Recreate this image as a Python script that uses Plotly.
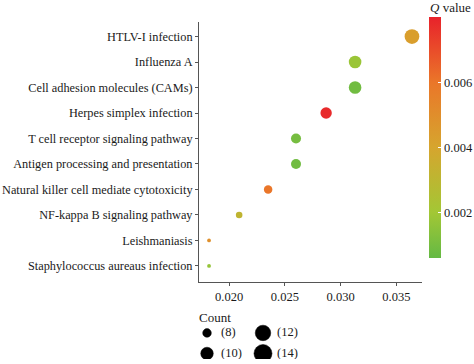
import plotly.graph_objects as go
import numpy as np

# ---------------- data ----------------
pathways = [
    "HTLV-I infection",
    "Influenza A",
    "Cell adhesion molecules (CAMs)",
    "Herpes simplex infection",
    "T cell receptor signaling pathway",
    "Antigen processing and presentation",
    "Natural killer cell mediate cytotoxicity",
    "NF-kappa B signaling pathway",
    "Leishmaniasis",
    "Staphylococcus aureaus infection",
]
rich_factor = [0.0364, 0.0313, 0.0313, 0.0287, 0.0260, 0.0260, 0.0235, 0.0209, 0.0182, 0.0182]
q_value = [0.0043, 0.0018, 0.0009, 0.0078, 0.0010, 0.0009, 0.0060, 0.0031, 0.0049, 0.0017]
counts = [14, 12, 12, 11, 10, 10, 9, 8, 7, 7]

x_ticks = [0.020, 0.025, 0.030, 0.035]
x_tick_labels = ["0.020", "0.025", "0.030", "0.035"]
q_ticks = [0.002, 0.004, 0.006]
q_tick_labels = ["0.002", "0.004", "0.006"]

legend_counts = [8, 10, 12, 14]
legend_labels = ["(8)", "(10)", "(12)", "(14)"]
legend_col = [0, 0, 1, 1]
legend_row = [1, 0, 1, 0]

# ---------------- style ----------------
FONT = "Liberation Serif"
TXT = "#1a1a1a"
AXC = "#555555"
colorscale = [
    [0.00, "#64b944"],
    [0.19, "#a3c735"],
    [0.46, "#d6a52e"],
    [0.73, "#ea7629"],
    [1.00, "#e8222b"],
]
Q_MIN, Q_MAX = 0.0006, 0.0080


def plot_size(c):
    return 14.7 * np.sqrt((np.asarray(c) - 6.5) / 7.5)


def legend_size(c):
    return 18.0 * np.sqrt((np.asarray(c) - 6.2) / 7.8)


fig = go.Figure()

fig.add_trace(go.Scatter(
    x=rich_factor,
    y=pathways,
    mode="markers",
    marker=dict(
        size=plot_size(counts),
        color=q_value,
        colorscale=colorscale,
        cmin=Q_MIN, cmax=Q_MAX,
        line=dict(width=0),
        opacity=1,
        showscale=True,
        colorbar=dict(
            x=1.031, xanchor="left",
            y=1.0148, yanchor="top",
            len=241, lenmode="pixels",
            thickness=12,
            outlinewidth=0,
            tickvals=q_ticks,
            ticktext=q_tick_labels,
            ticks="inside", ticklen=3, tickcolor="white", tickwidth=1,
            tickfont=dict(family=FONT, size=12.5, color=TXT),
            ypad=0, xpad=0,
        ),
    ),
    showlegend=False,
    hoverinfo="skip",
))

# size legend
fig.add_trace(go.Scatter(
    x=legend_col,
    y=legend_row,
    mode="markers",
    marker=dict(size=legend_size(legend_counts), color="#000000", opacity=1,
                line=dict(width=0.5, color="#000000")),
    xaxis="x2", yaxis="y2",
    showlegend=False, hoverinfo="skip",
))
fig.add_trace(go.Scatter(
    x=[c + 0.25 for c in legend_col],
    y=legend_row,
    mode="text",
    text=legend_labels,
    textposition="middle right",
    textfont=dict(family=FONT, size=12.5, color=TXT),
    xaxis="x2", yaxis="y2",
    showlegend=False, hoverinfo="skip",
))

fig.update_layout(
    width=474, height=364,
    margin=dict(l=199, r=52, t=22, b=5, autoexpand=False),
    paper_bgcolor="white",
    plot_bgcolor="white",
    font=dict(family=FONT, color=TXT, size=12.5),
    xaxis=dict(
        domain=[0, 1],
        range=[0.0173, 0.0373],
        tickvals=x_ticks, ticktext=x_tick_labels,
        showgrid=False, zeroline=False,
        showline=True, linecolor=AXC, linewidth=1,
        ticks="outside", ticklen=3, tickcolor=AXC,
        tickfont=dict(family=FONT, size=12.5, color=TXT),
        anchor="y", automargin=False,
    ),
    yaxis=dict(
        domain=[0.2285, 1],
        type="category",
        categoryorder="array",
        categoryarray=pathways[::-1],
        range=[-0.63, 9.57],
        showgrid=False, zeroline=False,
        showline=True, linecolor=AXC, linewidth=1,
        ticks="outside", ticklen=3, tickcolor=AXC,
        tickfont=dict(family=FONT, size=12.3, color=TXT),
        anchor="x", automargin=False,
    ),
    xaxis2=dict(
        domain=[0, 1], range=[-0.143, 3.84],
        visible=False, anchor="y2",
    ),
    yaxis2=dict(
        domain=[0, 0.12], range=[-0.268, 1.70],
        visible=False, anchor="x2",
    ),
    annotations=[
        dict(text="<i>Q</i> value", xref="paper", yref="paper",
             x=1.027, y=1.0445, xanchor="left", yanchor="middle",
             showarrow=False, font=dict(family=FONT, size=13, color=TXT)),
        dict(text="Count", xref="paper", yref="paper",
             x=-0.01, y=(359 - 317) / 337, xanchor="left", yanchor="middle",
             showarrow=False, font=dict(family=FONT, size=13, color=TXT)),
    ],
)

fig.write_html(
    "out.html",
    config={"displayModeBar": False},
    post_script="document.body.style.margin='0';document.body.style.padding='0';"
                "document.body.style.overflow='hidden';",
)
